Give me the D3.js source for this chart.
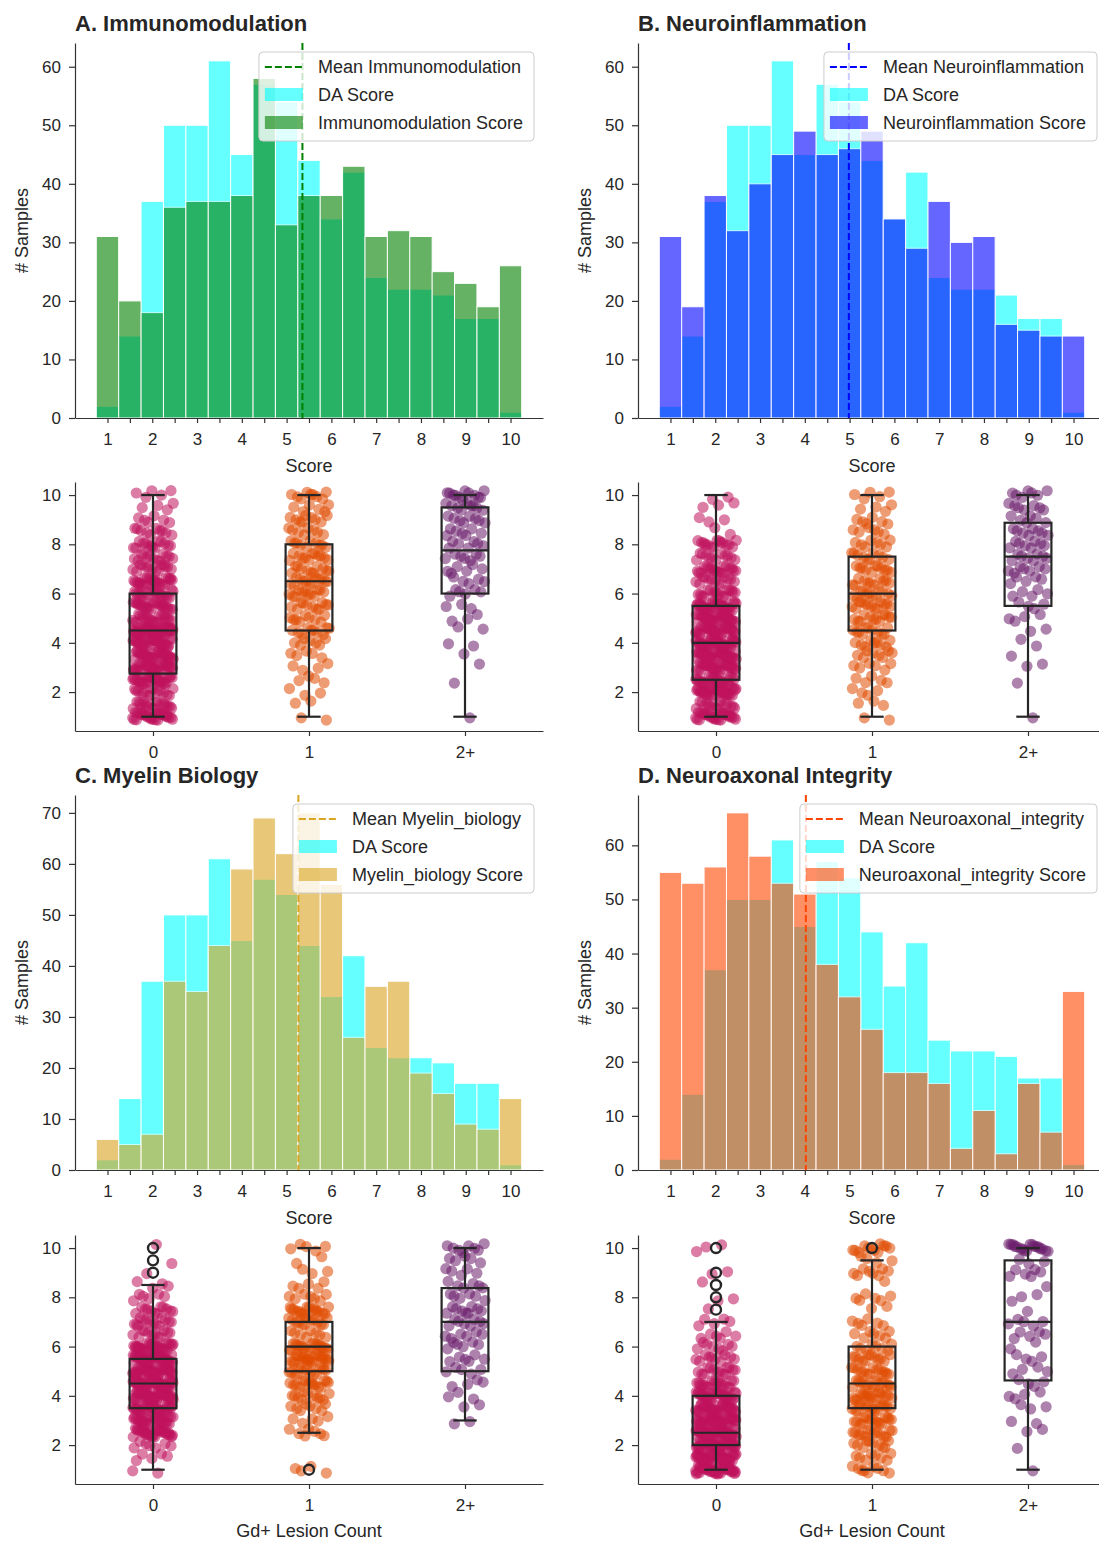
<!DOCTYPE html>
<html>
<head>
<meta charset="utf-8">
<script src="https://cdn.jsdelivr.net/npm/d3@7"></script>
<style>
  body { margin: 0; background: #fff; }
  text { font-family: "Liberation Sans", Arial, sans-serif; fill: #262626; }
</style>
</head>
<body>
<svg id="fig" width="1099" height="1541"></svg>
<script>
// score levels (scores come in half steps), one histogram bin per level
const levels = [1, 1.5, 2, 2.5, 3, 3.5, 4, 4.5, 5, 5.5, 6, 6.5, 7, 7.5, 8, 8.5, 9, 9.5, 10];
const gdGroups = ["0", "1", "2+"];

// histogram counts per level
const daCounts     = [2, 14, 37, 50, 50, 61, 45, 57, 54, 44, 34, 42, 24, 22, 22, 21, 17, 17, 1];
const immCounts    = [31, 20, 18, 36, 37, 37, 38, 58, 33, 38, 38, 43, 31, 32, 31, 25, 23, 19, 26];
const neuroCounts  = [31, 19, 38, 32, 40, 45, 49, 45, 46, 49, 34, 29, 37, 30, 31, 16, 15, 14, 14];
const myelinCounts = [6, 5, 7, 37, 35, 44, 59, 69, 62, 70, 56, 26, 36, 37, 19, 15, 9, 8, 14];
const axonCounts   = [55, 53, 56, 66, 58, 53, 51, 38, 32, 26, 18, 18, 16, 4, 11, 3, 16, 7, 33];

// samples per level, split by Gd+ lesion group (0, 1, 2+)
const immByGd = [
  [28, 18, 15, 31, 32, 31, 29, 46, 21, 24, 20, 25, 14, 13, 14, 10, 6, 4, 5],
  [2, 2, 3, 4, 4, 5, 7, 10, 9, 11, 12, 13, 11, 12, 10, 8, 9, 6, 9],
  [1, 0, 0, 1, 1, 1, 2, 2, 3, 3, 6, 5, 6, 7, 7, 7, 8, 9, 12]
];
const neuroByGd = [
  [28, 16, 34, 26, 32, 36, 38, 32, 30, 32, 17, 13, 19, 12, 15, 2, 3, 3, 2],
  [2, 3, 4, 5, 6, 8, 9, 11, 12, 13, 12, 11, 11, 10, 8, 6, 6, 4, 5],
  [1, 0, 0, 1, 2, 1, 2, 2, 4, 4, 5, 5, 7, 8, 8, 8, 6, 7, 7]
];
const myelinByGd = [
  [2, 5, 7, 30, 28, 34, 45, 50, 42, 42, 30, 12, 14, 12, 6, 4, 1, 1, 1],
  [4, 0, 0, 7, 5, 8, 11, 15, 15, 22, 20, 8, 14, 16, 7, 5, 3, 2, 5],
  [0, 0, 0, 0, 2, 2, 3, 4, 5, 6, 6, 6, 8, 9, 6, 6, 5, 5, 8]
];
const axonByGd = [
  [45, 45, 45, 50, 40, 34, 30, 18, 14, 10, 8, 6, 5, 1, 2, 1, 2, 0, 3],
  [9, 8, 10, 14, 16, 16, 17, 16, 14, 12, 8, 7, 6, 2, 6, 1, 8, 4, 12],
  [1, 0, 1, 2, 2, 3, 4, 4, 4, 4, 2, 5, 5, 1, 3, 1, 6, 3, 18]
];

// box stats per group: [whisker low, q1, median, q3, whisker high]
const immBox    = [[1, 2.75, 4.5, 6, 10], [1, 4.5, 6.5, 8, 10], [1, 6, 7.75, 9.5, 10]];
const neuroBox  = [[1, 2.5, 4, 5.5, 10], [1, 4.5, 6, 7.5, 10], [1, 5.5, 7.5, 8.875, 10]];
const myelinBox = [[1, 3.5, 4.5, 5.5, 8.5], [2.5, 5, 6, 7, 10], [3, 5, 7, 8.375, 10]];
const axonBox   = [[1, 2, 2.5, 4, 7], [1, 3.5, 4.5, 6, 9.5], [1, 4.625, 7, 9.5, 10]];

const immOut    = [[], [], []];
const neuroOut  = [[], [], []];
const myelinOut = [[9, 9.5, 10], [1], []];
const axonOut   = [[7.5, 8, 8.5, 9, 10], [10], []];

const panels = [
  { title: "A. Immunomodulation", key: "Immunomodulation", counts: immCounts, color: "#008000", byGd: immByGd, box: immBox, out: immOut },
  { title: "B. Neuroinflammation", key: "Neuroinflammation", counts: neuroCounts, color: "#0000ff", byGd: neuroByGd, box: neuroBox, out: neuroOut },
  { title: "C. Myelin Biology", key: "Myelin_biology", counts: myelinCounts, color: "#daa520", byGd: myelinByGd, box: myelinBox, out: myelinOut },
  { title: "D. Neuroaxonal Integrity", key: "Neuroaxonal_integrity", counts: axonCounts, color: "#ff4500", byGd: axonByGd, box: axonBox, out: axonOut }
];

const daColor = "#00ffff";
const groupColors = ["#c0125c", "#e04a00", "#6a1b6a"];
const ink = "#262626";

const colX = [75, 638];
const histTop = [43, 795];
const boxTop = [482, 1235];
const W = 468, HH = 375, BH = 249;

const svg = d3.select("#fig");

function styleAxis(g) {
  g.attr("font-family", null).attr("font-size", null);
  g.select(".domain").attr("stroke", "#333").attr("stroke-width", 1.2);
  g.selectAll(".tick line").attr("stroke", "#333").attr("stroke-width", 1.2);
  g.selectAll(".tick text").attr("font-size", 17).attr("fill", ink);
}

function drawHist(p, x0, y0) {
  const g = svg.append("g").attr("transform", `translate(${x0},${y0})`);
  const x = d3.scaleLinear().domain([0.275, 10.725]).range([0, W]);
  const ymax = d3.max(daCounts.concat(p.counts)) * 1.05;
  const y = d3.scaleLinear().domain([0, ymax]).range([HH, 0]);

  [[daCounts, daColor], [p.counts, p.color]].forEach(([c, col]) => {
    g.append("g").selectAll("rect").data(c).join("rect")
      .attr("x", (d, i) => x(levels[i] - 0.25))
      .attr("width", (d, i) => x(levels[i] + 0.25) - x(levels[i] - 0.25))
      .attr("y", d => y(d))
      .attr("height", d => HH - y(d))
      .attr("fill", col)
      .attr("stroke", "#fff")
      .attr("stroke-width", 1)
      .attr("opacity", 0.6);
  });

  // mean of the component score
  const mean = d3.sum(p.counts, (d, i) => d * levels[i]) / d3.sum(p.counts);
  g.append("line")
    .attr("x1", x(mean)).attr("x2", x(mean))
    .attr("y1", 0).attr("y2", HH)
    .attr("stroke", p.color).attr("stroke-width", 2)
    .attr("stroke-dasharray", "7,3");

  const xa = g.append("g").attr("transform", `translate(0,${HH})`)
    .call(d3.axisBottom(x)
      .tickValues(d3.range(1, 10.01, 0.5))
      .tickFormat(d => Number.isInteger(d) ? d : "")
      .tickSize(5).tickSizeOuter(0).tickPadding(10));
  styleAxis(xa);

  const ya = g.append("g")
    .call(d3.axisLeft(y)
      .tickValues(d3.range(0, ymax, 10))
      .tickSize(6).tickSizeOuter(0).tickPadding(8));
  styleAxis(ya);

  g.append("text")
    .attr("x", W / 2).attr("y", HH + 54)
    .attr("text-anchor", "middle").attr("font-size", 18)
    .text("Score");

  g.append("text")
    .attr("transform", `translate(-47,${HH / 2}) rotate(-90)`)
    .attr("text-anchor", "middle").attr("font-size", 18)
    .text("# Samples");

  g.append("text")
    .attr("x", 0).attr("y", -12)
    .attr("font-size", 22).attr("font-weight", "bold")
    .text(p.title);

  // legend
  const items = [
    { kind: "line", label: "Mean " + p.key, color: p.color },
    { kind: "patch", label: "DA Score", color: daColor },
    { kind: "patch", label: p.key + " Score", color: p.color }
  ];
  const lg = g.append("g");
  const frame = lg.append("rect");
  const rows = lg.selectAll("g.item").data(items).join("g")
    .attr("class", "item")
    .attr("transform", (d, i) => `translate(0,${15 + i * 28})`);
  rows.filter(d => d.kind === "line").append("line")
    .attr("x1", 6).attr("x2", 44).attr("y1", 0).attr("y2", 0)
    .attr("stroke", d => d.color).attr("stroke-width", 2)
    .attr("stroke-dasharray", "7,3");
  rows.filter(d => d.kind === "patch").append("rect")
    .attr("x", 6).attr("y", -7).attr("width", 38).attr("height", 13)
    .attr("fill", d => d.color).attr("opacity", 0.6);
  const labels = rows.append("text")
    .attr("x", 59).attr("y", 0).attr("dy", "0.35em")
    .attr("font-size", 18)
    .text(d => d.label);
  let tw = 0;
  labels.each(function () { tw = Math.max(tw, this.getComputedTextLength()); });
  const lw = 59 + tw + 11;
  frame.attr("x", 0).attr("y", 0).attr("width", lw).attr("height", 89)
    .attr("rx", 4).attr("fill", "#fff").attr("fill-opacity", 0.8)
    .attr("stroke", "#cccccc").attr("stroke-width", 1);
  lg.attr("transform", `translate(${W - 9 - lw},9)`);
}

function frac(v) { return v - Math.floor(v); }

function drawStrip(p, x0, y0, bottomRow) {
  const g = svg.append("g").attr("transform", `translate(${x0},${y0})`);
  const x = d3.scaleLinear().domain([-0.5, 2.5]).range([0, W]);
  const y = d3.scaleLinear().domain([0.42, 10.53]).range([BH, 0]);

  // one point per sample, spread a little around its group / level
  const pts = [];
  p.byGd.forEach((counts, gi) => {
    let k = 0;
    counts.forEach((n, li) => {
      for (let j = 0; j < n; j++, k++) {
        pts.push({
          g: gi,
          v: levels[li],
          jx: (frac(k * 0.6180339887 + gi * 0.31) - 0.5) * 0.26,
          jy: (frac(k * 0.7548776662 + 0.37) - 0.5) * 0.36
        });
      }
    });
  });

  g.append("g").selectAll("circle").data(pts).join("circle")
    .attr("cx", d => x(d.g + d.jx))
    .attr("cy", d => y(d.v + d.jy))
    .attr("r", 5.6)
    .attr("fill", d => groupColors[d.g])
    .attr("fill-opacity", 0.55);

  const bw = 0.15, cw = 0.075;
  const bx = g.append("g").attr("stroke", ink).attr("stroke-width", 2.2).attr("fill", "none");
  p.box.forEach((b, gi) => {
    const [lo, q1, med, q3, hi] = b;
    bx.append("line").attr("x1", x(gi)).attr("x2", x(gi)).attr("y1", y(q3)).attr("y2", y(hi));
    bx.append("line").attr("x1", x(gi)).attr("x2", x(gi)).attr("y1", y(q1)).attr("y2", y(lo));
    bx.append("line").attr("x1", x(gi - cw)).attr("x2", x(gi + cw)).attr("y1", y(hi)).attr("y2", y(hi));
    bx.append("line").attr("x1", x(gi - cw)).attr("x2", x(gi + cw)).attr("y1", y(lo)).attr("y2", y(lo));
    bx.append("rect").attr("x", x(gi - bw)).attr("width", x(gi + bw) - x(gi - bw))
      .attr("y", y(q3)).attr("height", y(q1) - y(q3));
    bx.append("line").attr("x1", x(gi - bw)).attr("x2", x(gi + bw)).attr("y1", y(med)).attr("y2", y(med));
    p.out[gi].forEach(v => {
      bx.append("circle").attr("cx", x(gi)).attr("cy", y(v)).attr("r", 5).attr("stroke-width", 2.4);
    });
  });

  const xa = g.append("g").attr("transform", `translate(0,${BH})`)
    .call(d3.axisBottom(x).tickValues([0, 1, 2]).tickFormat(d => gdGroups[d])
      .tickSize(5).tickSizeOuter(0).tickPadding(10));
  styleAxis(xa);

  const ya = g.append("g")
    .call(d3.axisLeft(y).tickValues([2, 4, 6, 8, 10])
      .tickSize(6).tickSizeOuter(0).tickPadding(8));
  styleAxis(ya);

  if (bottomRow) {
    g.append("text")
      .attr("x", W / 2).attr("y", BH + 53)
      .attr("text-anchor", "middle").attr("font-size", 18)
      .text("Gd+ Lesion Count");
  }
}

panels.forEach((p, i) => {
  const col = i % 2, row = Math.floor(i / 2);
  drawHist(p, colX[col], histTop[row]);
  drawStrip(p, colX[col], boxTop[row], row === 1);
});
</script>
</body>
</html>
